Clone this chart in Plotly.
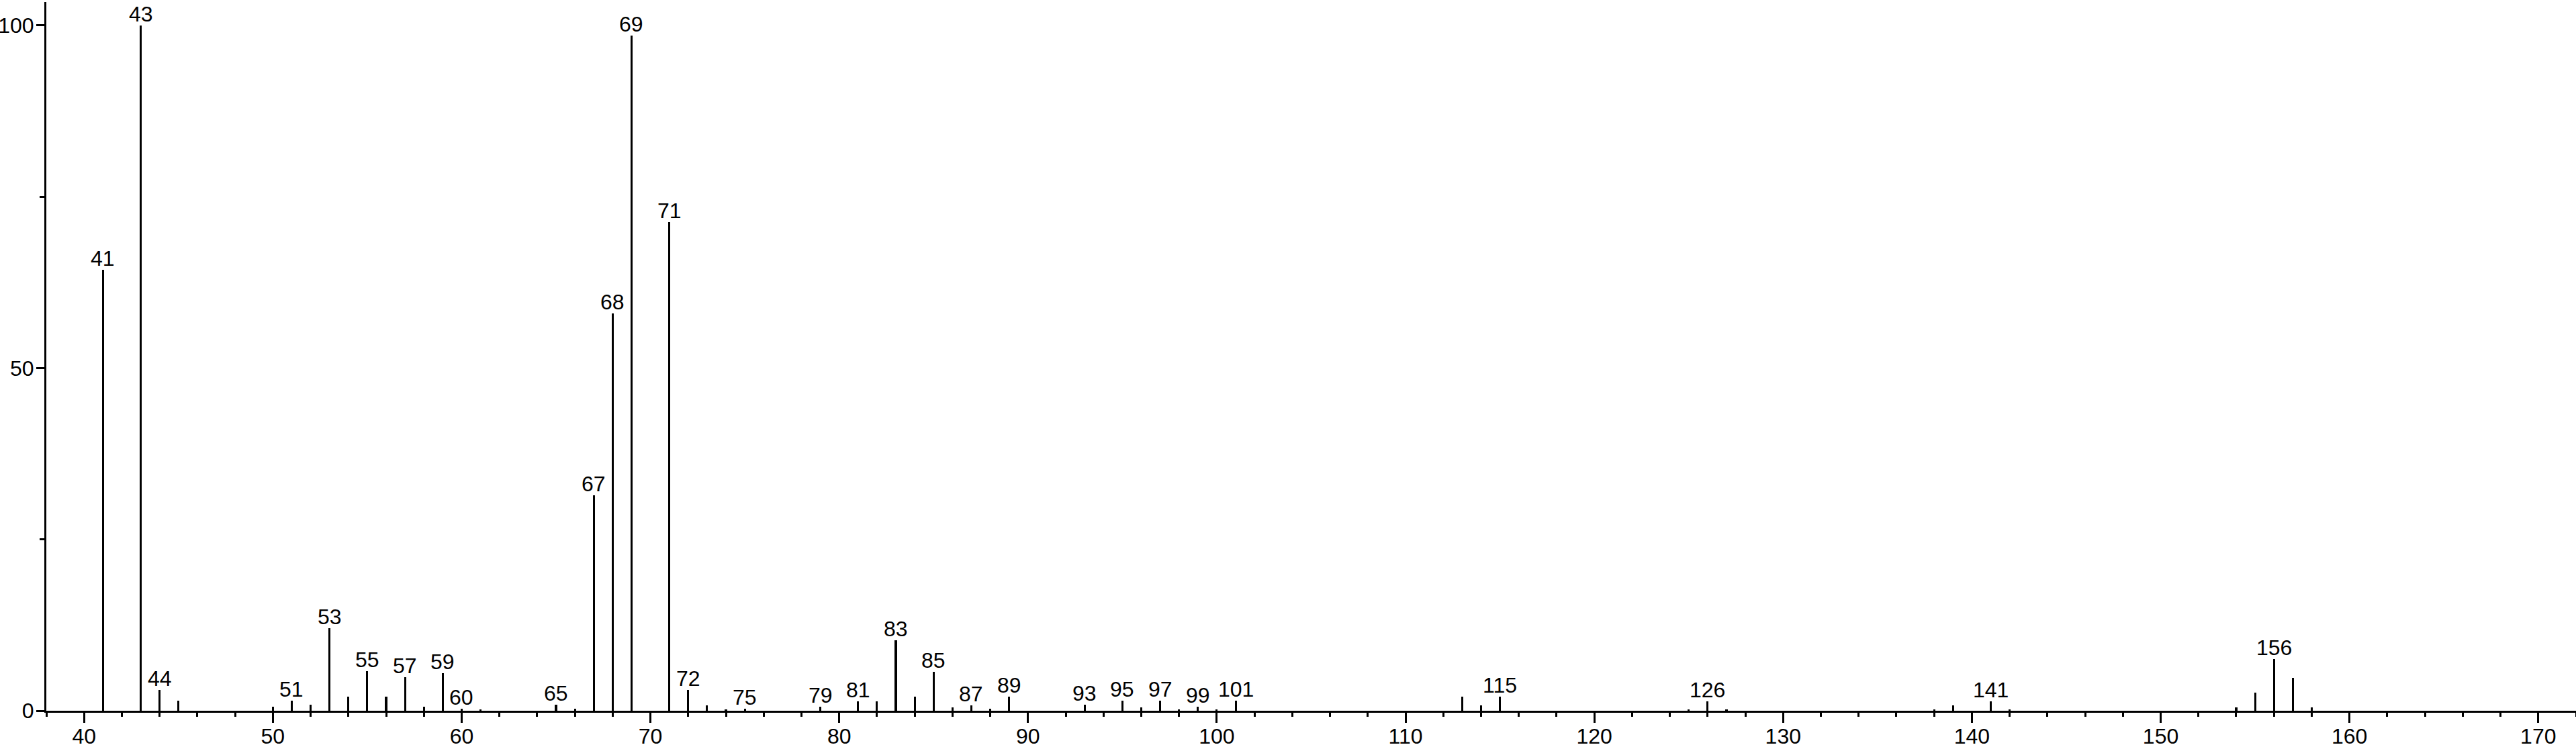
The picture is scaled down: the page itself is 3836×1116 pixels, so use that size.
import plotly.graph_objects as go

# m/z values and relative intensities
mz = [41, 43, 44, 45, 50, 51, 52, 53, 54, 55, 56, 57, 58, 59, 60, 61,
      65, 66, 67, 68, 69, 71, 72, 73, 74, 75, 79, 81, 82, 83, 84, 85,
      86, 87, 88, 89, 93, 95, 96, 97, 98, 99, 100, 101, 113, 114, 115,
      125, 126, 127, 138, 139, 141, 142, 154, 155, 156, 157, 158]
intensity = [64.3, 100, 3.0, 1.5, 0.6, 1.45, 0.9, 12.0, 2.1, 5.8, 2.1, 4.85, 0.6, 5.5, 0.3, 0.2,
             0.9, 0.3, 31.4, 58.0, 98.5, 71.3, 3.0, 0.8, 0.2, 0.25, 0.55, 1.4, 1.4, 10.3, 2.1, 5.7,
             0.5, 0.8, 0.26, 2.06, 0.85, 1.45, 0.5, 1.45, 0.2, 0.55, 0.2, 1.45, 2.06, 0.8, 2.06,
             0.1, 1.37, 0.1, 0.23, 0.8, 1.4, 0.23, 0.5, 2.6, 7.5, 4.8, 0.5]

# peaks that carry an m/z label
labeled = [41, 43, 44, 51, 53, 55, 57, 59, 60, 65, 67, 68, 69, 71, 72, 75, 79,
           81, 83, 85, 87, 89, 93, 95, 97, 99, 101, 115, 126, 141, 156]

x_ticks = [40, 50, 60, 70, 80, 90, 100, 110, 120, 130, 140, 150, 160, 170]
y_ticks = [0, 50, 100]

FONT = "Liberation Sans, Arial, sans-serif"

fig = go.Figure()
fig.add_trace(go.Bar(
    x=mz, y=intensity, width=0.11,
    marker=dict(color="black", line=dict(width=0)),
    hoverinfo="x+y",
))

lookup = dict(zip(mz, intensity))
for m in labeled:
    fig.add_annotation(
        x=m, y=lookup[m], text=str(m), showarrow=False,
        xanchor="center", yanchor="bottom", yshift=-3,
        font=dict(family=FONT, size=32, color="black"),
    )

fig.update_layout(
    width=3836, height=1116,
    margin=dict(l=69, r=0, t=3, b=57, autoexpand=False),
    paper_bgcolor="white", plot_bgcolor="white",
    showlegend=False,
    bargap=0,
    font=dict(family=FONT, size=32, color="black"),
)
fig.update_xaxes(
    range=[38, 172], automargin=False,
    tickmode="array", tickvals=x_ticks, ticktext=[str(v) for v in x_ticks],
    ticks="outside", ticklen=15, tickwidth=3, tickcolor="black",
    ticklabelstandoff=-7,
    minor=dict(dtick=2, tick0=0, ticks="outside", ticklen=6, tickwidth=3, tickcolor="black"),
    showline=True, linecolor="black", linewidth=3,
    showgrid=False, zeroline=False,
    tickfont=dict(family=FONT, size=32, color="black"),
)
fig.update_yaxes(
    range=[0, 103.4], automargin=False,
    tickmode="array", tickvals=y_ticks, ticktext=[str(v) for v in y_ticks],
    ticks="outside", ticklen=12, tickwidth=3, tickcolor="black",
    ticklabelstandoff=-3,
    minor=dict(tickvals=[25, 75], ticks="outside", ticklen=7, tickwidth=3, tickcolor="black"),
    showline=True, linecolor="black", linewidth=3,
    showgrid=False, zeroline=False,
    tickfont=dict(family=FONT, size=32, color="black"),
)

# remove the browser's default 8px body margin so the figure sits at the page origin
fig.write_html(
    "out.html",
    config={"displayModeBar": False},
    post_script="document.body.style.margin='0';",
)
